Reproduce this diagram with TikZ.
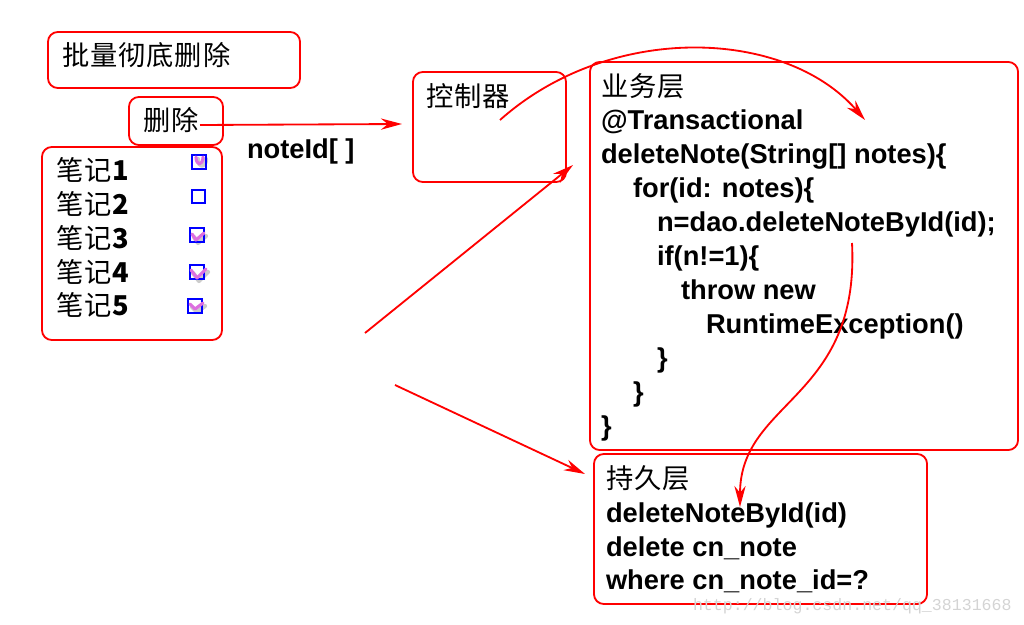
\documentclass[tikz,border=0pt]{standalone}
\usepackage{fontspec}
\setmainfont{Liberation Sans}
\newfontfamily\cjk[LetterSpace=3.5]{Noto Sans CJK SC}
\newfontfamily\wmfont{Liberation Mono}
\usetikzlibrary{arrows.meta}
\definecolor{frred}{HTML}{FF0000}
\definecolor{ckblue}{HTML}{0000FF}
\definecolor{ckpink}{HTML}{DD6FE0}
\definecolor{wmgray}{HTML}{D4D4D4}

\begin{document}
\begin{tikzpicture}[x=0.025cm, y=-0.025cm,
  every node/.style={inner sep=0pt, outer sep=0pt},
  frame/.style={draw=frred, line width=1.3pt, rounded corners=7pt},
  zh/.style={anchor=base west, font=\cjk\fontsize{19.4}{24}\selectfont},
  code/.style={anchor=base west, font=\fontsize{19.4}{24}\selectfont\bfseries},
  link/.style={draw=frred, line width=1.3pt, -{Stealth[length=15pt, width=8pt]}},
  ckbox/.style={draw=ckblue, line width=1.5pt, minimum size=0.33cm},
  tick/.style={draw=ckpink, line width=2.2pt, line cap=round, line join=round},
  tickshade/.style={draw=black!20, line width=3pt, line cap=round, line join=round},
]
\useasboundingbox (0,0) rectangle (1024,624);

% frames
\node[frame, minimum width=6.3cm, minimum height=1.4cm] (batch) at (174,60) {};
\node[frame, minimum width=2.35cm, minimum height=1.2cm] (del) at (176,121) {};
\node[frame, minimum width=4.5cm, minimum height=4.825cm] (notes) at (132,243.5) {};
\node[frame, minimum width=3.825cm, minimum height=2.75cm] (ctrl) at (489.5,127) {};
\node[frame, minimum width=10.7cm, minimum height=9.7cm] (svc) at (804,256) {};
\node[frame, minimum width=8.325cm, minimum height=3.75cm] (dao) at (760.5,529) {};

% left side
\node[zh] (batchtxt) at (62,66) {批量彻底删除};
\node[zh] (deltxt) at (143,130.5) {删除};
\node[zh] (note1) at (56,180) {笔记\textbf{1}};
\node[zh] (note2) at (56,214) {笔记\textbf{2}};
\node[zh] (note3) at (56,248) {笔记\textbf{3}};
\node[zh] (note4) at (56,282) {笔记\textbf{4}};
\node[zh] (note5) at (56,315) {笔记\textbf{5}};
\node[code] (ids) at (247,158) {noteId[ ]};

% check boxes
\draw[tickshade] (198,159) .. controls (198,168) and (206,168) .. (206,159);
\draw[tickshade] (194,237) -- (198,243) -- (206,236);
\draw[tickshade] (193,273) -- (199,281) -- (208,272);
\draw[tickshade] (192,307) -- (197,312) -- (205,306);
\node[ckbox] (ck1) at (199,162) {};
\node[ckbox] (ck2) at (198.5,196.5) {};
\node[ckbox] (ck3) at (197,235) {};
\node[ckbox] (ck4) at (197,272) {};
\node[ckbox] (ck5) at (195,306) {};
\draw[tick] (196,157) .. controls (196,166) and (203,166) .. (203,157);
\draw[tick] (192,234) -- (196,240) -- (204,233);
\draw[tick] (191,270) -- (197,278) -- (206,269);
\draw[tick] (190,304) -- (195,309) -- (203,303);

% controller
\node[zh] (ctrltxt) at (426,106) {控制器};

% service layer
\node[zh] (svctitle) at (601,97) {业务层};
\node[code] (svcann) at (601,129) {@Transactional};
\node[code] (svcsig) at (601,163) {deleteNote(String[] notes)\{};
\node[code] (svcfor) at (633,197) {for(id: notes)\{};
\node[code] (svccall) at (657,231) {n=dao.deleteNoteById(id);};
\node[code] (svcif) at (657,265) {if(n!=1)\{};
\node[code] (svcthrow) at (681,299) {throw new};
\node[code] (svcexc) at (706,333) {RuntimeException()};
\node[code] (svcc1) at (657,367) {\}};
\node[code] (svcc2) at (633,401) {\}};
\node[code] (svcc3) at (601,435) {\}};

% persistence layer
\node[zh] (daotitle) at (606,488) {持久层};
\node[code] (daocall) at (606,522) {deleteNoteById(id)};
\node[code] (daosql) at (606,556) {delete cn\_note};
\node[code] (daowhere) at (606,589) {where cn\_note\_id=?};

% watermark
\node[anchor=base west, font=\wmfont\fontsize{11.8}{12}\selectfont, text=wmgray] (wm) at (693,610) {http://blog.csdn.net/qq\_38131668};

% connectors
\coordinate (delout) at (200,125);
\coordinate (ctrlin) at (402,124);
\coordinate (up0) at (365,333);
\coordinate (up1) at (573,165);
\coordinate (dn0) at (395,385);
\coordinate (dn1) at (585,474);
\coordinate (ctrlout) at (500,120);
\coordinate (svcin) at (865,120);
\coordinate (callout) at (852,243);
\coordinate (daoin) at (740,507);

\draw[link] (delout) -- (ctrlin);
\draw[link] (up0) -- (up1);
\draw[link] (dn0) -- (dn1);
\draw[link] (ctrlout) .. controls (610,22) and (785,28) .. (svcin);
\draw[link] (callout) .. controls (860,400) and (740,400) .. (daoin);

\end{tikzpicture}
\end{document}
